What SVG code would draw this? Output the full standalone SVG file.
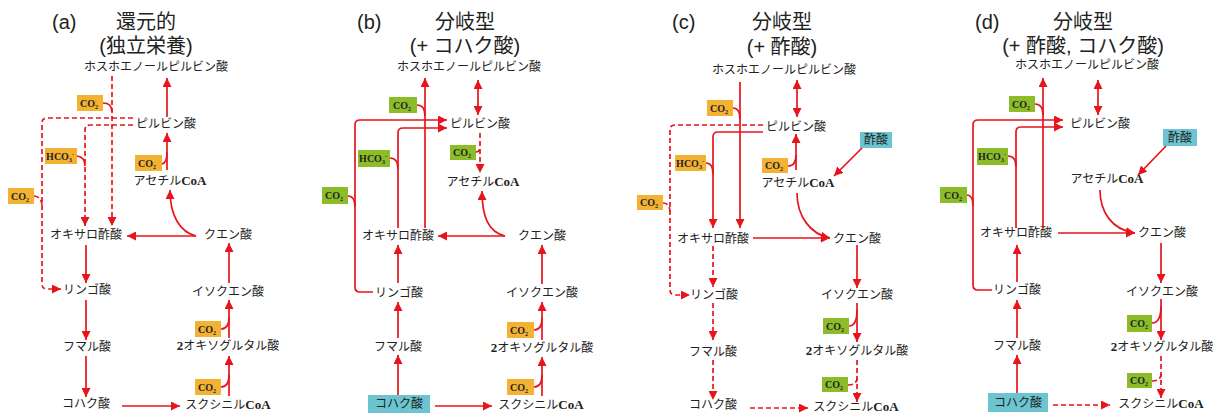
<svg xmlns="http://www.w3.org/2000/svg" width="1223" height="417" viewBox="0 0 1223 417">
<style>
.ln{fill:none;stroke:#E8141C;stroke-width:1.7}
.da{stroke-dasharray:5,3}
.t{font-family:"Noto Sans CJK JP",sans-serif;font-size:12px;fill:#222;text-anchor:middle}
.h{font-family:"Liberation Sans","Noto Sans CJK JP",sans-serif;font-size:20px;fill:#222;text-anchor:middle}
.hl{font-family:"Liberation Sans",sans-serif;font-size:20px;fill:#222}
.b{font-family:"Liberation Serif",serif;font-weight:bold;font-size:13px}
.or{fill:#F4B233}.gr{fill:#8CBD29}.bl{fill:#6CC4D0}
.bt{font-family:"Liberation Serif",serif;font-weight:bold;font-size:10px;fill:#222;text-anchor:middle}
.s{font-size:6px}
</style>
<defs>
<marker id="ah" markerUnits="userSpaceOnUse" markerWidth="10" markerHeight="9" refX="9" refY="4.5" orient="auto-start-reverse" viewBox="0 0 10 9">
<path d="M0,0 L9,4.5 L0,9 z" fill="#E8141C"/>
</marker>
</defs>

<!-- Panel a -->
<g id="panel-a">
<text class="hl" x="52" y="29">(a)</text>
<text class="h" x="146" y="29">還元的</text>
<text class="h" x="146" y="53">(独立栄養)</text>
<g id="a-pep"><text class="t" x="156" y="71">ホスホエノールピルビン酸</text></g>
<g id="a-pyr"><text class="t" x="166" y="128">ピルビン酸</text></g>
<g id="a-acoa"><text class="t" x="170" y="185">アセチル<tspan class="b">CoA</tspan></text></g>
<g id="a-oaa"><text class="t" x="86" y="239">オキサロ酢酸</text></g>
<g id="a-cit"><text class="t" x="228" y="239">クエン酸</text></g>
<g id="a-mal"><text class="t" x="87" y="294">リンゴ酸</text></g>
<g id="a-fum"><text class="t" x="87" y="351">フマル酸</text></g>
<g id="a-suc"><text class="t" x="86" y="408">コハク酸</text></g>
<g id="a-scoa"><text class="t" x="228" y="409">スクシニル<tspan class="b">CoA</tspan></text></g>
<g id="a-akg"><text class="t" x="228" y="350"><tspan class="b">2</tspan>オキソグルタル酸</text></g>
<g id="a-icit"><text class="t" x="228" y="296">イソクエン酸</text></g>
<g id="a-co2-1"><rect class="or" x="77" y="95" width="26" height="16"/><text class="bt" x="89" y="107">CO<tspan class="s" dy="2">2</tspan></text></g>
<g id="a-hco3"><rect class="or" x="45" y="148" width="32" height="16"/><text class="bt" x="60" y="160">HCO<tspan class="s" dy="2">3</tspan><tspan class="s" dy="-6">-</tspan></text></g>
<g id="a-co2-2"><rect class="or" x="8" y="188" width="26" height="16"/><text class="bt" x="20" y="200">CO<tspan class="s" dy="2">2</tspan></text></g>
<g id="a-co2-3"><rect class="or" x="135" y="155" width="27" height="16"/><text class="bt" x="147" y="167">CO<tspan class="s" dy="2">2</tspan></text></g>
<g id="a-co2-4"><rect class="or" x="195" y="321" width="26" height="16"/><text class="bt" x="207" y="333">CO<tspan class="s" dy="2">2</tspan></text></g>
<g id="a-co2-5"><rect class="or" x="195" y="379" width="26" height="16"/><text class="bt" x="207" y="391">CO<tspan class="s" dy="2">2</tspan></text></g>
</g>

<!-- Panel b -->
<g id="panel-b">
<text class="hl" x="357" y="29">(b)</text>
<text class="h" x="465" y="29">分岐型</text>
<text class="h" x="465" y="53">(+ コハク酸)</text>
<g id="b-pep"><text class="t" x="469" y="71">ホスホエノールピルビン酸</text></g>
<g id="b-pyr"><text class="t" x="480" y="128">ピルビン酸</text></g>
<g id="b-acoa"><text class="t" x="483" y="186">アセチル<tspan class="b">CoA</tspan></text></g>
<g id="b-oaa"><text class="t" x="398" y="240">オキサロ酢酸</text></g>
<g id="b-cit"><text class="t" x="542" y="240">クエン酸</text></g>
<g id="b-mal"><text class="t" x="399" y="297">リンゴ酸</text></g>
<g id="b-fum"><text class="t" x="398" y="351">フマル酸</text></g>
<g id="b-suc"><rect class="bl" x="368" y="395" width="62" height="18"/><text class="t" x="399" y="408">コハク酸</text></g>
<g id="b-scoa"><text class="t" x="541" y="409">スクシニル<tspan class="b">CoA</tspan></text></g>
<g id="b-akg"><text class="t" x="542" y="352"><tspan class="b">2</tspan>オキソグルタル酸</text></g>
<g id="b-icit"><text class="t" x="542" y="297">イソクエン酸</text></g>
<g id="b-co2-1"><rect class="gr" x="389" y="97" width="28" height="16"/><text class="bt" x="402" y="109">CO<tspan class="s" dy="2">2</tspan></text></g>
<g id="b-hco3"><rect class="gr" x="358" y="150" width="32" height="17"/><text class="bt" x="373" y="162">HCO<tspan class="s" dy="2">3</tspan><tspan class="s" dy="-6">-</tspan></text></g>
<g id="b-co2-2"><rect class="gr" x="322" y="187" width="26" height="17"/><text class="bt" x="334" y="199">CO<tspan class="s" dy="2">2</tspan></text></g>
<g id="b-co2-3"><rect class="gr" x="450" y="145" width="26" height="15"/><text class="bt" x="462" y="156">CO<tspan class="s" dy="2">2</tspan></text></g>
<g id="b-co2-4"><rect class="or" x="507" y="322" width="27" height="16"/><text class="bt" x="519" y="334">CO<tspan class="s" dy="2">2</tspan></text></g>
<g id="b-co2-5"><rect class="or" x="507" y="379" width="27" height="16"/><text class="bt" x="519" y="391">CO<tspan class="s" dy="2">2</tspan></text></g>
</g>

<!-- Panel c -->
<g id="panel-c">
<text class="hl" x="672" y="29">(c)</text>
<text class="h" x="782" y="29">分岐型</text>
<text class="h" x="782" y="54">(+ 酢酸)</text>
<g id="c-pep"><text class="t" x="784" y="74">ホスホエノールピルビン酸</text></g>
<g id="c-pyr"><text class="t" x="796" y="131">ピルビン酸</text></g>
<g id="c-acoa"><text class="t" x="798" y="187">アセチル<tspan class="b">CoA</tspan></text></g>
<g id="c-oaa"><text class="t" x="713" y="243">オキサロ酢酸</text></g>
<g id="c-cit"><text class="t" x="857" y="243">クエン酸</text></g>
<g id="c-mal"><text class="t" x="714" y="299">リンゴ酸</text></g>
<g id="c-fum"><text class="t" x="713" y="356">フマル酸</text></g>
<g id="c-suc"><text class="t" x="713" y="409">コハク酸</text></g>
<g id="c-scoa"><text class="t" x="856" y="411">スクシニル<tspan class="b">CoA</tspan></text></g>
<g id="c-akg"><text class="t" x="857" y="355"><tspan class="b">2</tspan>オキソグルタル酸</text></g>
<g id="c-icit"><text class="t" x="857" y="299">イソクエン酸</text></g>
<g id="c-ace"><rect class="bl" x="860" y="132" width="32" height="16"/><text class="t" x="876" y="144">酢酸</text></g>
<g id="c-co2-1"><rect class="or" x="707" y="100" width="26" height="16"/><text class="bt" x="719" y="112">CO<tspan class="s" dy="2">2</tspan></text></g>
<g id="c-hco3"><rect class="or" x="675" y="155" width="31" height="16"/><text class="bt" x="690" y="167">HCO<tspan class="s" dy="2">3</tspan><tspan class="s" dy="-6">-</tspan></text></g>
<g id="c-co2-2"><rect class="or" x="637" y="195" width="26" height="15"/><text class="bt" x="649" y="206">CO<tspan class="s" dy="2">2</tspan></text></g>
<g id="c-co2-3"><rect class="or" x="762" y="158" width="26" height="15"/><text class="bt" x="774" y="169">CO<tspan class="s" dy="2">2</tspan></text></g>
<g id="c-co2-4"><rect class="gr" x="823" y="318" width="26" height="16"/><text class="bt" x="835" y="330">CO<tspan class="s" dy="2">2</tspan></text></g>
<g id="c-co2-5"><rect class="gr" x="822" y="377" width="26" height="15"/><text class="bt" x="834" y="388">CO<tspan class="s" dy="2">2</tspan></text></g>
</g>

<!-- Panel d -->
<g id="panel-d">
<text class="hl" x="975" y="29">(d)</text>
<text class="h" x="1083" y="29">分岐型</text>
<text class="h" x="1083" y="53">(+ 酢酸, コハク酸)</text>
<g id="d-pep"><text class="t" x="1087" y="69">ホスホエノールピルビン酸</text></g>
<g id="d-pyr"><text class="t" x="1100" y="128">ピルビン酸</text></g>
<g id="d-acoa"><text class="t" x="1107" y="183">アセチル<tspan class="b">CoA</tspan></text></g>
<g id="d-oaa"><text class="t" x="1016" y="237">オキサロ酢酸</text></g>
<g id="d-cit"><text class="t" x="1162" y="237">クエン酸</text></g>
<g id="d-mal"><text class="t" x="1017" y="294">リンゴ酸</text></g>
<g id="d-fum"><text class="t" x="1017" y="350">フマル酸</text></g>
<g id="d-suc"><rect class="bl" x="988" y="393" width="60" height="19"/><text class="t" x="1018" y="407">コハク酸</text></g>
<g id="d-scoa"><text class="t" x="1161" y="408">スクシニル<tspan class="b">CoA</tspan></text></g>
<g id="d-akg"><text class="t" x="1162" y="351"><tspan class="b">2</tspan>オキソグルタル酸</text></g>
<g id="d-icit"><text class="t" x="1162" y="296">イソクエン酸</text></g>
<g id="d-ace"><rect class="bl" x="1163" y="129" width="34" height="17"/><text class="t" x="1180" y="142">酢酸</text></g>
<g id="d-co2-1"><rect class="gr" x="1009" y="96" width="26" height="16"/><text class="bt" x="1021" y="108">CO<tspan class="s" dy="2">2</tspan></text></g>
<g id="d-hco3"><rect class="gr" x="977" y="148" width="31" height="17"/><text class="bt" x="992" y="160">HCO<tspan class="s" dy="2">3</tspan><tspan class="s" dy="-6">-</tspan></text></g>
<g id="d-co2-2"><rect class="gr" x="940" y="187" width="27" height="16"/><text class="bt" x="953" y="199">CO<tspan class="s" dy="2">2</tspan></text></g>
<g id="d-co2-4"><rect class="gr" x="1127" y="315" width="25" height="17"/><text class="bt" x="1139" y="327">CO<tspan class="s" dy="2">2</tspan></text></g>
<g id="d-co2-5"><rect class="gr" x="1127" y="373" width="25" height="15"/><text class="bt" x="1139" y="384">CO<tspan class="s" dy="2">2</tspan></text></g>
</g>

<g id="connectors">
<!-- a -->
<path class="ln da" d="M112,76 V226" marker-end="url(#ah)"/>
<path class="ln" d="M103,103 Q112,103 112,112"/>
<path class="ln da" d="M133,118 H47 Q42,118 42,123 V284 Q42,289 47,289 H61" marker-end="url(#ah)"/>
<path class="ln da" d="M133,125 H90 Q85,125 85,130 V226" marker-end="url(#ah)"/>
<path class="ln" d="M77,156 Q85,157 85,166"/>
<path class="ln da" d="M34,196 Q42,197 42,206"/>
<path class="ln" d="M167,117 V78" marker-end="url(#ah)"/>
<path class="ln" d="M167,170 V133" marker-end="url(#ah)"/>
<path class="ln" d="M162,164 Q167,163 167,152"/>
<path class="ln" d="M196,236 C180,232 170,216 170,190" marker-end="url(#ah)"/>
<path class="ln" d="M196,236 H127" marker-end="url(#ah)"/>
<path class="ln" d="M86,245 V283" marker-end="url(#ah)"/>
<path class="ln" d="M86,300 V340" marker-end="url(#ah)"/>
<path class="ln" d="M86,356 V397" marker-end="url(#ah)"/>
<path class="ln" d="M122,406 H180" marker-end="url(#ah)"/>
<path class="ln" d="M229,396 V356" marker-end="url(#ah)"/>
<path class="ln" d="M221,387 Q229,387 229,375"/>
<path class="ln" d="M229,338 V300" marker-end="url(#ah)"/>
<path class="ln" d="M221,329 Q229,329 229,317"/>
<path class="ln" d="M229,283 V243" marker-end="url(#ah)"/>
<!-- b -->
<path class="ln" d="M425,228 V78" marker-end="url(#ah)"/>
<path class="ln" d="M417,105 Q425,105 425,116"/>
<path class="ln" d="M478,80 V115" marker-start="url(#ah)" marker-end="url(#ah)"/>
<path class="ln" d="M373,292 H360 Q355,292 355,287 V125 Q355,120 360,120 H447" marker-end="url(#ah)"/>
<path class="ln" d="M398,228 V133 Q398,128 403,128 H447" marker-end="url(#ah)"/>
<path class="ln" d="M390,158 Q398,158 398,169"/>
<path class="ln" d="M348,196 Q355,196 355,207"/>
<path class="ln da" d="M480,133 V173" marker-end="url(#ah)"/>
<path class="ln da" d="M476,152 Q480,152 480,147"/>
<path class="ln" d="M505,236 C488,232 482,216 482,191" marker-end="url(#ah)"/>
<path class="ln" d="M505,236 H438" marker-end="url(#ah)"/>
<path class="ln" d="M398,283 V245" marker-end="url(#ah)"/>
<path class="ln" d="M398,338 V302" marker-end="url(#ah)"/>
<path class="ln" d="M398,395 V355" marker-end="url(#ah)"/>
<path class="ln" d="M435,406 H492" marker-end="url(#ah)"/>
<path class="ln" d="M542,396 V357" marker-end="url(#ah)"/>
<path class="ln" d="M534,387 Q542,387 542,375"/>
<path class="ln" d="M542,340 V302" marker-end="url(#ah)"/>
<path class="ln" d="M534,330 Q542,330 542,318"/>
<path class="ln" d="M542,284 V245" marker-end="url(#ah)"/>
<!-- c -->
<path class="ln" d="M740,82 V228" marker-end="url(#ah)"/>
<path class="ln" d="M733,108 Q740,108 740,119"/>
<path class="ln" d="M797,80 V117" marker-start="url(#ah)" marker-end="url(#ah)"/>
<path class="ln da" d="M763,125 H675 Q670,125 670,130 V290 Q670,295 675,295 H690" marker-end="url(#ah)"/>
<path class="ln" d="M763,132 H718 Q713,132 713,137 V228" marker-end="url(#ah)"/>
<path class="ln" d="M706,163 Q713,163 713,174"/>
<path class="ln da" d="M663,203 Q670,203 670,213"/>
<path class="ln" d="M862,148 L834,176" marker-end="url(#ah)"/>
<path class="ln" d="M796,170 V134" marker-end="url(#ah)"/>
<path class="ln" d="M788,166 Q796,166 796,155"/>
<path class="ln" d="M797,193 C797,216 810,234 830,238" marker-end="url(#ah)"/>
<path class="ln" d="M753,238 H830" marker-end="url(#ah)"/>
<path class="ln" d="M857,245 V288" marker-end="url(#ah)"/>
<path class="ln" d="M857,303 V342" marker-end="url(#ah)"/>
<path class="ln" d="M857,310 Q857,326 849,326"/>
<path class="ln da" d="M857,360 V402" marker-end="url(#ah)"/>
<path class="ln da" d="M857,378 Q857,385 848,385"/>
<path class="ln da" d="M713,246 V287" marker-end="url(#ah)"/>
<path class="ln da" d="M713,303 V340" marker-end="url(#ah)"/>
<path class="ln da" d="M713,360 V400" marker-end="url(#ah)"/>
<path class="ln da" d="M750,408 H808" marker-end="url(#ah)"/>
<!-- d -->
<path class="ln" d="M1043,228 V78" marker-end="url(#ah)"/>
<path class="ln" d="M1035,104 Q1043,104 1043,115"/>
<path class="ln" d="M1098,80 V115" marker-start="url(#ah)" marker-end="url(#ah)"/>
<path class="ln" d="M992,290 H978 Q973,290 973,285 V125 Q973,120 978,120 H1063" marker-end="url(#ah)"/>
<path class="ln" d="M1016,228 V132 Q1016,127 1021,127 H1063" marker-end="url(#ah)"/>
<path class="ln" d="M1008,156 Q1016,156 1016,167"/>
<path class="ln" d="M967,195 Q973,195 973,206"/>
<path class="ln" d="M1166,146 L1138,175" marker-end="url(#ah)"/>
<path class="ln" d="M1100,190 C1100,212 1112,230 1135,233" marker-end="url(#ah)"/>
<path class="ln" d="M1058,233 H1135" marker-end="url(#ah)"/>
<path class="ln" d="M1161,243 V283" marker-end="url(#ah)"/>
<path class="ln" d="M1161,299 V340" marker-end="url(#ah)"/>
<path class="ln" d="M1161,306 Q1161,323 1152,323"/>
<path class="ln da" d="M1161,356 V398" marker-end="url(#ah)"/>
<path class="ln da" d="M1161,374 Q1161,381 1152,381"/>
<path class="ln" d="M1017,282 V245" marker-end="url(#ah)"/>
<path class="ln" d="M1017,338 V300" marker-end="url(#ah)"/>
<path class="ln" d="M1017,393 V355" marker-end="url(#ah)"/>
<path class="ln da" d="M1053,405 H1110" marker-end="url(#ah)"/>
</g>
</svg>
